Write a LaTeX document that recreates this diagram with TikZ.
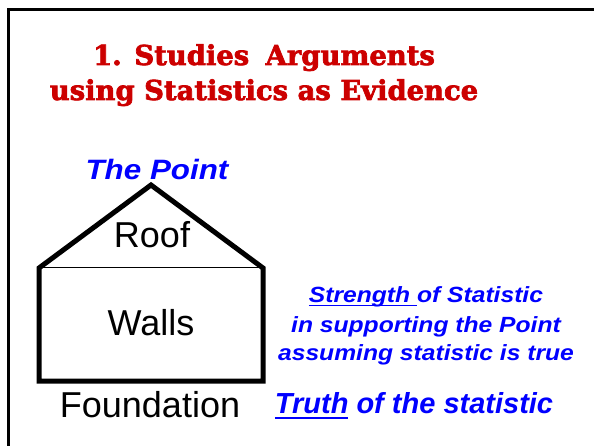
\documentclass[tikz,border=0pt]{standalone}
\usepackage{fontspec}
\usepackage{xcolor}
\usepackage{tikz}
\setmainfont{Liberation Sans}
\newfontfamily\slabfont[BoldFeatures={FakeBold=2.5}]{DejaVu Serif}
\newfontfamily\widesans[FakeStretch=1.12]{Liberation Sans}
\definecolor{titlered}{HTML}{CC0000}
\definecolor{pointblue}{HTML}{0000FF}
\newlength\ulwd
\newcommand\undl[1]{\settowidth\ulwd{#1}\rlap{\rule[-0.2em]{\ulwd}{0.075em}}#1}
\tikzset{
  frame/.style={draw=black, line width=3pt},
  wall/.style={draw=black, line width=5pt, line join=miter},
  eave/.style={draw=black, line width=1pt},
  title/.style={text=titlered, font=\slabfont\bfseries\fontsize{27.4}{30}\selectfont, anchor=base, inner sep=0pt},
  part/.style={text=black, font=\fontsize{36}{40}\selectfont, anchor=base, inner sep=0pt},
  point/.style={text=pointblue, font=\bfseries\itshape\fontsize{29}{32}\selectfont, anchor=base, inner sep=0pt},
  note/.style={text=pointblue, font=\widesans\bfseries\itshape\fontsize{22}{26}\selectfont, anchor=base, inner sep=0pt}
}

\begin{document}
\begin{tikzpicture}[x=1pt, y=-1pt]
  \useasboundingbox (0,0) rectangle (594,446);

  % slide frame, running off the right and bottom
  \coordinate (fb) at (8,450);
  \coordinate (fc) at (8,10);
  \coordinate (fr) at (600,10);
  \draw[frame] (fb) -- (fc) -- (fr);

  \node[title] (t1) at (264,65) {1. Studies\hspace{0.6em}Arguments};
  \node[title] (t2) at (264,100) {using Statistics as Evidence};

  % the house
  \coordinate (apex) at (151,185);
  \coordinate (eaveL) at (39,268);
  \coordinate (eaveR) at (263,268);
  \coordinate (baseL) at (39,381);
  \coordinate (baseR) at (263,381);
  \draw[wall] (eaveL) -- (apex) -- (eaveR) -- (baseR) -- (baseL) -- cycle;
  \draw[eave] (eaveL) -- (eaveR);

  \node[point, font=\widesans\bfseries\itshape\fontsize{28}{32}\selectfont] (pt) at (157,180) {The Point};
  \node[part] (roof) at (152,248) {Roof};
  \node[part] (walls) at (151,335) {Walls};
  \node[part] (found) at (150,417) {Foundation};

  % what each part stands for
  \node[note] (s1) at (426,302) {\undl{Strength\ }of Statistic};
  \node[note] (s2) at (426,332) {in supporting the Point};
  \node[note] (s3) at (426,360) {assuming statistic is true};
  \node[point] (tr) at (414,413) {\undl{Truth} of the statistic};
\end{tikzpicture}
\end{document}
